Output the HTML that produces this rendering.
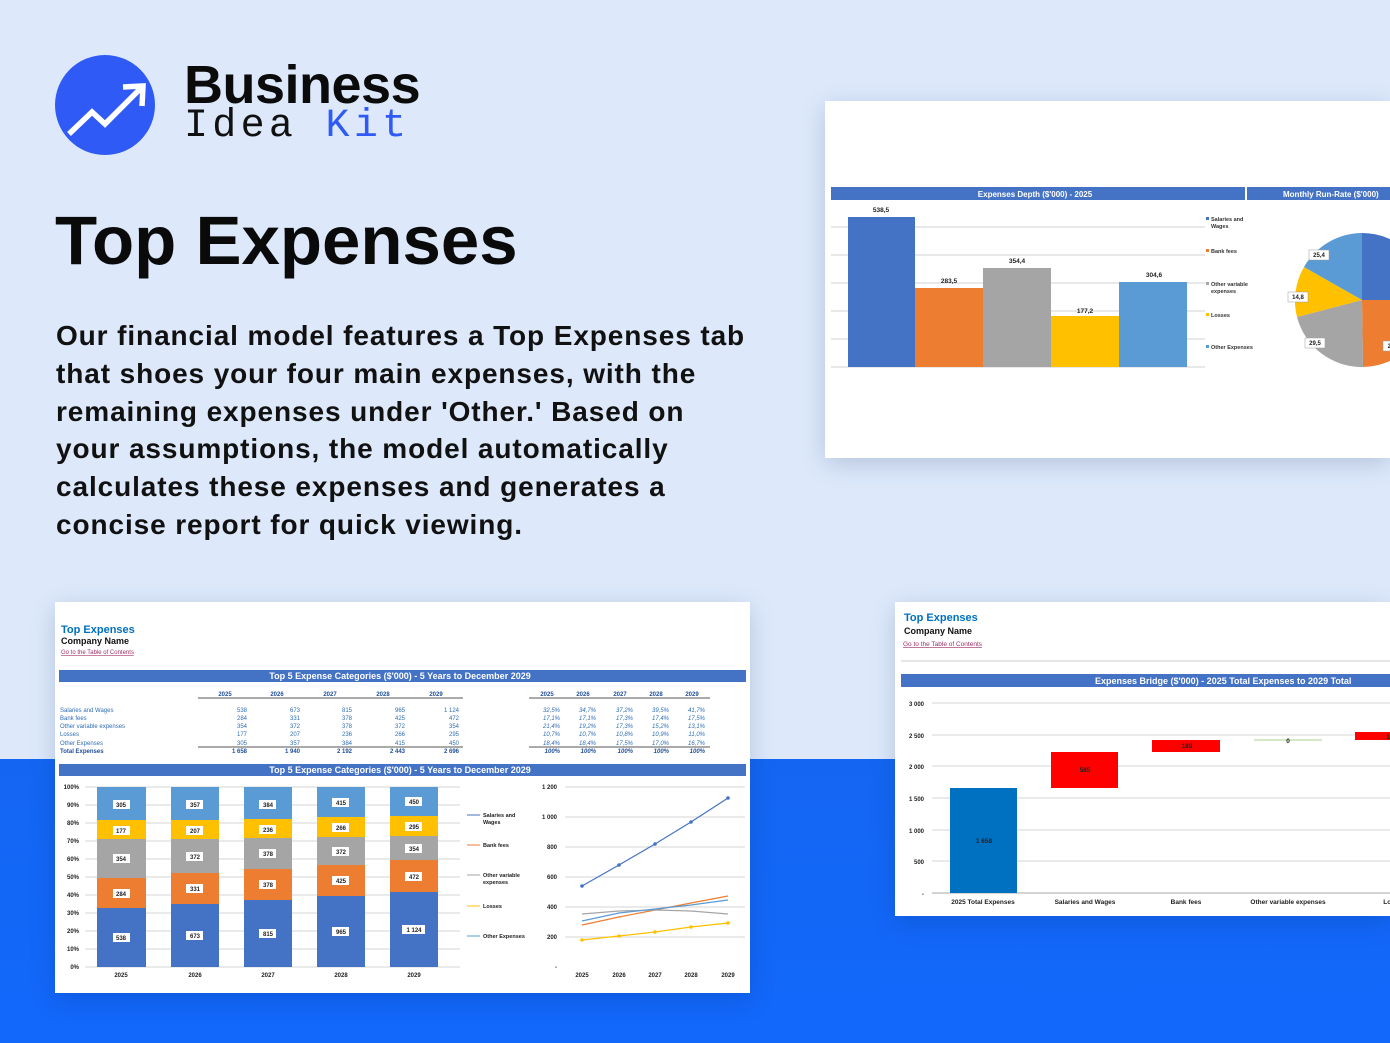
<!DOCTYPE html>
<html><head><meta charset="utf-8"><style>
*{margin:0;padding:0;box-sizing:border-box}
body{width:1390px;height:1043px;position:relative;overflow:hidden;font-family:"Liberation Sans",sans-serif;background:#dde9fb}
.band{position:absolute;left:0;top:759px;width:1390px;height:284px;background:linear-gradient(180deg,#1466f2,#1268fb)}
.abs{position:absolute}
.panel{position:absolute;background:#fff;box-shadow:0 6px 24px rgba(0,30,90,.18);overflow:hidden}
h1{position:absolute;left:55px;top:201px;font-size:69px;font-weight:bold;color:#0a0a0a;letter-spacing:0px}
.para{position:absolute;left:56px;top:317px;font-size:28px;line-height:37.8px;font-weight:bold;color:#111;letter-spacing:0.9px}
svg text{font-family:"Liberation Sans",sans-serif}
</style></head><body>
<div class="band"></div>

<!-- logo -->
<svg class="abs" style="left:55px;top:55px" width="102" height="102" viewBox="0 0 102 102">
<circle cx="50" cy="50" r="50" fill="#2f5af5"/>
<polyline points="14,79 37,57 50,69 86,33" fill="none" stroke="#fff" stroke-width="5.5"/>
<polyline points="68,32 88,31 87,51" fill="none" stroke="#fff" stroke-width="5.5"/>
</svg>
<div class="abs" style="left:184px;top:54px;font-size:54px;font-weight:bold;color:#0b0b0b;letter-spacing:-0.5px">Business</div>
<div class="abs" style="left:184px;top:104px;font-family:'Liberation Mono',monospace;font-size:40px;color:#111;letter-spacing:4.3px">Idea <span style="color:#2f5af5">Kit</span></div>

<h1>Top Expenses</h1>
<div class="para">Our financial model features a Top Expenses tab<br>that shoes your four main expenses, with the<br>remaining expenses under 'Other.' Based on<br>your assumptions, the model automatically<br>calculates these expenses and generates a<br>concise report for quick viewing.</div>

<!-- top right panel -->
<div class="panel" style="left:825px;top:101px;width:565px;height:357px">
<svg width="565" height="357">
<rect x="6" y="86" width="414" height="13" fill="#4472c4"/>
<rect x="422" y="86" width="143" height="13" fill="#4472c4"/>
<text x="210" y="96" font-size="8" font-weight="bold" fill="#fff" text-anchor="middle">Expenses Depth ($'000) - 2025</text>
<text x="458" y="96" font-size="8" font-weight="bold" fill="#fff">Monthly Run-Rate ($'000)</text>
<g stroke="#d0d0d0" stroke-width="1">
<line x1="6" y1="126" x2="380" y2="126"/><line x1="6" y1="154" x2="380" y2="154"/><line x1="6" y1="182" x2="380" y2="182"/><line x1="6" y1="210" x2="380" y2="210"/><line x1="6" y1="238" x2="380" y2="238"/><line x1="6" y1="266" x2="380" y2="266"/></g>
<rect x="23" y="116" width="67" height="150" fill="#4472c4"/>
<rect x="90" y="187" width="68" height="79" fill="#ed7d31"/>
<rect x="158" y="167" width="68" height="99" fill="#a5a5a5"/>
<rect x="226" y="215" width="68" height="51" fill="#ffc000"/>
<rect x="294" y="181" width="68" height="85" fill="#5b9bd5"/>
<g font-size="6.5" fill="#222" text-anchor="middle" font-weight="bold">
<text x="56" y="111">538,5</text><text x="124" y="182">283,5</text><text x="192" y="162">354,4</text><text x="260" y="212">177,2</text><text x="329" y="176">304,6</text></g>
<g font-size="5.5" fill="#333" font-weight="bold">
<rect x="381" y="116" width="3" height="3" fill="#4472c4"/><text x="386" y="120">Salaries and</text><text x="386" y="127">Wages</text>
<rect x="381" y="148" width="3" height="3" fill="#ed7d31"/><text x="386" y="152">Bank fees</text>
<rect x="381" y="181" width="3" height="3" fill="#a5a5a5"/><text x="386" y="185">Other variable</text><text x="386" y="192">expenses</text>
<rect x="381" y="212" width="3" height="3" fill="#ffc000"/><text x="386" y="216">Losses</text>
<rect x="381" y="244" width="3" height="3" fill="#5b9bd5"/><text x="386" y="248">Other Expenses</text></g>
<g transform="translate(537,199)">
<path d="M0,0 L0,-67 A67,67 0 0 1 67,0 Z" fill="#4472c4"/>
<path d="M0,0 L67,0 A67,67 0 0 1 1,67 Z" fill="#ed7d31"/>
<path d="M0,0 L1,67 A67,67 0 0 1 -65,17 Z" fill="#a5a5a5"/>
<path d="M0,0 L-65,17 A67,67 0 0 1 -58,-33 Z" fill="#ffc000"/>
<path d="M0,0 L-58,-33 A67,67 0 0 1 0,-67 Z" fill="#5b9bd5"/>
</g>
<g font-size="6" fill="#222" text-anchor="middle" font-weight="bold">
<rect x="484" y="149" width="20" height="10" fill="#fff" stroke="#999" stroke-width=".5"/><text x="494" y="156">25,4</text>
<rect x="463" y="191" width="20" height="10" fill="#fff" stroke="#999" stroke-width=".5"/><text x="473" y="198">14,8</text>
<rect x="480" y="237" width="20" height="10" fill="#fff" stroke="#999" stroke-width=".5"/><text x="490" y="244">29,5</text>
<rect x="558" y="240" width="20" height="10" fill="#fff" stroke="#999" stroke-width=".5"/><text x="566" y="247">23</text></g>
</svg></div>

<!-- bottom left panel -->
<div class="panel" style="left:55px;top:602px;width:695px;height:391px">
<svg width="695" height="391">
<text x="6" y="31" font-size="11" font-weight="bold" fill="#0070c0">Top Expenses</text>
<text x="6" y="42" font-size="9" font-weight="bold" fill="#111">Company Name</text>
<text x="6" y="52" font-size="6" fill="#a0306a" text-decoration="underline">Go to the Table of Contents</text>
<rect x="4" y="68" width="687" height="12" fill="#4472c4"/>
<text x="345" y="77" font-size="9" font-weight="bold" fill="#fff" text-anchor="middle">Top 5 Expense Categories ($'000) - 5 Years to December 2029</text>
<g font-size="6" font-weight="bold" fill="#1f4e99" text-anchor="middle">
<text x="170" y="94">2025</text><text x="222" y="94">2026</text><text x="275" y="94">2027</text><text x="328" y="94">2028</text><text x="381" y="94">2029</text>
<text x="492" y="94">2025</text><text x="528" y="94">2026</text><text x="565" y="94">2027</text><text x="601" y="94">2028</text><text x="637" y="94">2029</text></g>
<line x1="143" y1="96" x2="408" y2="96" stroke="#555"/><line x1="474" y1="96" x2="655" y2="96" stroke="#555"/>
<g font-size="6" fill="#2e6db4">
<text x="5" y="110">Salaries and Wages</text><text x="5" y="118">Bank fees</text><text x="5" y="126">Other variable expenses</text><text x="5" y="134">Losses</text><text x="5" y="143">Other Expenses</text>
<text x="5" y="151" font-weight="bold" fill="#1f4e99">Total Expenses</text></g>
<g font-size="6" fill="#2e6db4" text-anchor="end">
<text x="192" y="110">538</text><text x="245" y="110">673</text><text x="297" y="110">815</text><text x="350" y="110">965</text><text x="404" y="110">1 124</text>
<text x="192" y="118">284</text><text x="245" y="118">331</text><text x="297" y="118">378</text><text x="350" y="118">425</text><text x="404" y="118">472</text>
<text x="192" y="126">354</text><text x="245" y="126">372</text><text x="297" y="126">378</text><text x="350" y="126">372</text><text x="404" y="126">354</text>
<text x="192" y="134">177</text><text x="245" y="134">207</text><text x="297" y="134">236</text><text x="350" y="134">266</text><text x="404" y="134">295</text>
<text x="192" y="143">305</text><text x="245" y="143">357</text><text x="297" y="143">384</text><text x="350" y="143">415</text><text x="404" y="143">450</text>
<g font-weight="bold" fill="#1f4e99"><text x="192" y="151">1 658</text><text x="245" y="151">1 940</text><text x="297" y="151">2 192</text><text x="350" y="151">2 443</text><text x="404" y="151">2 696</text></g>
<g font-style="italic">
<text x="505" y="110">32,5%</text><text x="541" y="110">34,7%</text><text x="578" y="110">37,2%</text><text x="614" y="110">39,5%</text><text x="650" y="110">41,7%</text>
<text x="505" y="118">17,1%</text><text x="541" y="118">17,1%</text><text x="578" y="118">17,3%</text><text x="614" y="118">17,4%</text><text x="650" y="118">17,5%</text>
<text x="505" y="126">21,4%</text><text x="541" y="126">19,2%</text><text x="578" y="126">17,3%</text><text x="614" y="126">15,2%</text><text x="650" y="126">13,1%</text>
<text x="505" y="134">10,7%</text><text x="541" y="134">10,7%</text><text x="578" y="134">10,8%</text><text x="614" y="134">10,9%</text><text x="650" y="134">11,0%</text>
<text x="505" y="143">18,4%</text><text x="541" y="143">18,4%</text><text x="578" y="143">17,5%</text><text x="614" y="143">17,0%</text><text x="650" y="143">16,7%</text>
<g font-weight="bold" fill="#1f4e99"><text x="505" y="151">100%</text><text x="541" y="151">100%</text><text x="578" y="151">100%</text><text x="614" y="151">100%</text><text x="650" y="151">100%</text></g></g></g>
<line x1="143" y1="145" x2="408" y2="145" stroke="#555"/><line x1="474" y1="145" x2="655" y2="145" stroke="#555"/>
<rect x="4" y="162" width="687" height="12" fill="#4472c4"/>
<text x="345" y="171" font-size="9" font-weight="bold" fill="#fff" text-anchor="middle">Top 5 Expense Categories ($'000) - 5 Years to December 2029</text>
<g stroke="#d4d4d4"><line x1="30" y1="185" x2="405" y2="185"/><line x1="30" y1="203" x2="405" y2="203"/><line x1="30" y1="221" x2="405" y2="221"/><line x1="30" y1="239" x2="405" y2="239"/><line x1="30" y1="257" x2="405" y2="257"/><line x1="30" y1="275" x2="405" y2="275"/><line x1="30" y1="293" x2="405" y2="293"/><line x1="30" y1="311" x2="405" y2="311"/><line x1="30" y1="329" x2="405" y2="329"/><line x1="30" y1="347" x2="405" y2="347"/><line x1="30" y1="365" x2="405" y2="365"/></g>
<g font-size="6" font-weight="bold" fill="#222" text-anchor="end">
<text x="24" y="187">100%</text><text x="24" y="205">90%</text><text x="24" y="223">80%</text><text x="24" y="241">70%</text><text x="24" y="259">60%</text><text x="24" y="277">50%</text><text x="24" y="295">40%</text><text x="24" y="313">30%</text><text x="24" y="331">20%</text><text x="24" y="349">10%</text><text x="24" y="367">0%</text></g>
<g>
<rect x="42" y="306" width="49" height="59" fill="#4472c4"/><rect x="42" y="276" width="49" height="30" fill="#ed7d31"/><rect x="42" y="237" width="49" height="39" fill="#a5a5a5"/><rect x="42" y="218" width="49" height="19" fill="#ffc000"/><rect x="42" y="185" width="49" height="33" fill="#5b9bd5"/>
<rect x="116" y="302" width="48" height="63" fill="#4472c4"/><rect x="116" y="271" width="48" height="31" fill="#ed7d31"/><rect x="116" y="237" width="48" height="34" fill="#a5a5a5"/><rect x="116" y="218" width="48" height="19" fill="#ffc000"/><rect x="116" y="185" width="48" height="33" fill="#5b9bd5"/>
<rect x="189" y="298" width="48" height="67" fill="#4472c4"/><rect x="189" y="267" width="48" height="31" fill="#ed7d31"/><rect x="189" y="236" width="48" height="31" fill="#a5a5a5"/><rect x="189" y="217" width="48" height="19" fill="#ffc000"/><rect x="189" y="185" width="48" height="32" fill="#5b9bd5"/>
<rect x="262" y="294" width="48" height="71" fill="#4472c4"/><rect x="262" y="263" width="48" height="31" fill="#ed7d31"/><rect x="262" y="235" width="48" height="28" fill="#a5a5a5"/><rect x="262" y="215" width="48" height="20" fill="#ffc000"/><rect x="262" y="185" width="48" height="30" fill="#5b9bd5"/>
<rect x="335" y="290" width="48" height="75" fill="#4472c4"/><rect x="335" y="258" width="48" height="32" fill="#ed7d31"/><rect x="335" y="234" width="48" height="24" fill="#a5a5a5"/><rect x="335" y="214" width="48" height="20" fill="#ffc000"/><rect x="335" y="185" width="48" height="29" fill="#5b9bd5"/>
</g>
<g font-size="6" font-weight="bold" fill="#222" text-anchor="middle">
<g fill="#fff"><rect x="58" y="198" width="17" height="9"/><rect x="58" y="224" width="17" height="9"/><rect x="58" y="252" width="17" height="9"/><rect x="58" y="287" width="17" height="9"/><rect x="58" y="331" width="17" height="9"/>
<rect x="131" y="198" width="17" height="9"/><rect x="131" y="224" width="17" height="9"/><rect x="131" y="250" width="17" height="9"/><rect x="131" y="282" width="17" height="9"/><rect x="131" y="329" width="17" height="9"/>
<rect x="204" y="198" width="17" height="9"/><rect x="204" y="223" width="17" height="9"/><rect x="204" y="247" width="17" height="9"/><rect x="204" y="278" width="17" height="9"/><rect x="204" y="327" width="17" height="9"/>
<rect x="277" y="196" width="17" height="9"/><rect x="277" y="221" width="17" height="9"/><rect x="277" y="245" width="17" height="9"/><rect x="277" y="274" width="17" height="9"/><rect x="277" y="325" width="17" height="9"/>
<rect x="350" y="195" width="17" height="9"/><rect x="350" y="220" width="17" height="9"/><rect x="350" y="242" width="17" height="9"/><rect x="350" y="270" width="17" height="9"/><rect x="347" y="323" width="23" height="9"/></g>
<text x="66" y="205">305</text><text x="66" y="231">177</text><text x="66" y="259">354</text><text x="66" y="294">284</text><text x="66" y="338">538</text>
<text x="140" y="205">357</text><text x="140" y="231">207</text><text x="140" y="257">372</text><text x="140" y="289">331</text><text x="140" y="336">673</text>
<text x="213" y="205">384</text><text x="213" y="230">236</text><text x="213" y="254">378</text><text x="213" y="285">378</text><text x="213" y="334">815</text>
<text x="286" y="203">415</text><text x="286" y="228">266</text><text x="286" y="252">372</text><text x="286" y="281">425</text><text x="286" y="332">965</text>
<text x="359" y="202">450</text><text x="359" y="227">295</text><text x="359" y="249">354</text><text x="359" y="277">472</text><text x="359" y="330">1 124</text>
<text x="66" y="375">2025</text><text x="140" y="375">2026</text><text x="213" y="375">2027</text><text x="286" y="375">2028</text><text x="359" y="375">2029</text></g>
<g font-size="5.5" font-weight="bold" fill="#222">
<line x1="412" y1="213" x2="425" y2="213" stroke="#4472c4"/><text x="428" y="215">Salaries and</text><text x="428" y="222">Wages</text>
<line x1="412" y1="243" x2="425" y2="243" stroke="#ed7d31"/><text x="428" y="245">Bank fees</text>
<line x1="412" y1="273" x2="425" y2="273" stroke="#a5a5a5"/><text x="428" y="275">Other variable</text><text x="428" y="282">expenses</text>
<line x1="412" y1="304" x2="425" y2="304" stroke="#ffc000"/><text x="428" y="306">Losses</text>
<line x1="412" y1="334" x2="425" y2="334" stroke="#5b9bd5"/><text x="428" y="336">Other Expenses</text></g>
<g stroke="#d4d4d4"><line x1="510" y1="185" x2="690" y2="185"/><line x1="510" y1="215" x2="690" y2="215"/><line x1="510" y1="245" x2="690" y2="245"/><line x1="510" y1="275" x2="690" y2="275"/><line x1="510" y1="305" x2="690" y2="305"/><line x1="510" y1="335" x2="690" y2="335"/></g>
<g font-size="6" font-weight="bold" fill="#222" text-anchor="end">
<text x="502" y="187">1 200</text><text x="502" y="217">1 000</text><text x="502" y="247">800</text><text x="502" y="277">600</text><text x="502" y="307">400</text><text x="502" y="337">200</text><text x="502" y="367">-</text></g>
<g font-size="6" font-weight="bold" fill="#222" text-anchor="middle"><text x="527" y="375">2025</text><text x="564" y="375">2026</text><text x="600" y="375">2027</text><text x="636" y="375">2028</text><text x="673" y="375">2029</text></g>
<g fill="none" stroke-width="1.2">
<polyline points="527,284 564,263 600,242 636,220 673,196" stroke="#4472c4"/>
<polyline points="527,323 564,315 600,308 636,301 673,294" stroke="#ed7d31"/>
<polyline points="527,312 564,309 600,308 636,309 673,312" stroke="#a5a5a5"/>
<polyline points="527,338 564,334 600,330 636,325 673,321" stroke="#ffc000"/>
<polyline points="527,319 564,311 600,307 636,303 673,298" stroke="#5b9bd5"/></g>
<g fill="#4472c4"><circle cx="527" cy="284" r="1.8"/><circle cx="564" cy="263" r="1.8"/><circle cx="600" cy="242" r="1.8"/><circle cx="636" cy="220" r="1.8"/><circle cx="673" cy="196" r="1.8"/></g>
<g fill="#ffc000"><circle cx="527" cy="338" r="1.8"/><circle cx="564" cy="334" r="1.8"/><circle cx="600" cy="330" r="1.8"/><circle cx="636" cy="325" r="1.8"/><circle cx="673" cy="321" r="1.8"/></g>
</svg></div>

<!-- bottom right panel -->
<div class="panel" style="left:895px;top:602px;width:495px;height:314px">
<svg width="495" height="314">
<text x="9" y="19" font-size="11" font-weight="bold" fill="#0070c0">Top Expenses</text>
<text x="9" y="32" font-size="9" font-weight="bold" fill="#111">Company Name</text>
<text x="8" y="44" font-size="6.5" fill="#a0306a" text-decoration="underline">Go to the Table of Contents</text>
<line x1="6" y1="59" x2="495" y2="59" stroke="#ccc"/>
<rect x="6" y="72" width="489" height="13" fill="#4472c4"/>
<text x="200" y="82" font-size="9" font-weight="bold" fill="#fff">Expenses Bridge ($'000) - 2025 Total Expenses to 2029 Total</text>
<g stroke="#d4d4d4"><line x1="37" y1="101" x2="495" y2="101"/><line x1="37" y1="133" x2="495" y2="133"/><line x1="37" y1="164" x2="495" y2="164"/><line x1="37" y1="196" x2="495" y2="196"/><line x1="37" y1="228" x2="495" y2="228"/><line x1="37" y1="259" x2="495" y2="259"/><line x1="37" y1="291" x2="495" y2="291" stroke="#aaa"/></g>
<g font-size="6" font-weight="bold" fill="#222" text-anchor="end">
<text x="29" y="104">3 000</text><text x="29" y="136">2 500</text><text x="29" y="167">2 000</text><text x="29" y="199">1 500</text><text x="29" y="231">1 000</text><text x="29" y="262">500</text><text x="29" y="294">-</text></g>
<rect x="55" y="186" width="67" height="105" fill="#0070c0"/>
<rect x="156" y="150" width="67" height="36" fill="#ff0000"/>
<rect x="257" y="138" width="68" height="12" fill="#ff0000"/>
<line x1="359" y1="138" x2="427" y2="138" stroke="#c6e0b4" stroke-width="1.5"/>
<rect x="460" y="130" width="35" height="8" fill="#ff0000"/>
<g font-size="6.5" font-weight="bold" fill="#222" text-anchor="middle">
<text x="89" y="241">1 658</text><text x="190" y="170">585</text><text x="292" y="146">189</text><text x="393" y="141">0</text><text x="493" y="137">1</text>
<text x="88" y="302">2025 Total Expenses</text><text x="190" y="302">Salaries and Wages</text><text x="291" y="302">Bank fees</text><text x="393" y="302">Other variable expenses</text><text x="494" y="302">Los</text></g>
</svg></div>
</body></html>
